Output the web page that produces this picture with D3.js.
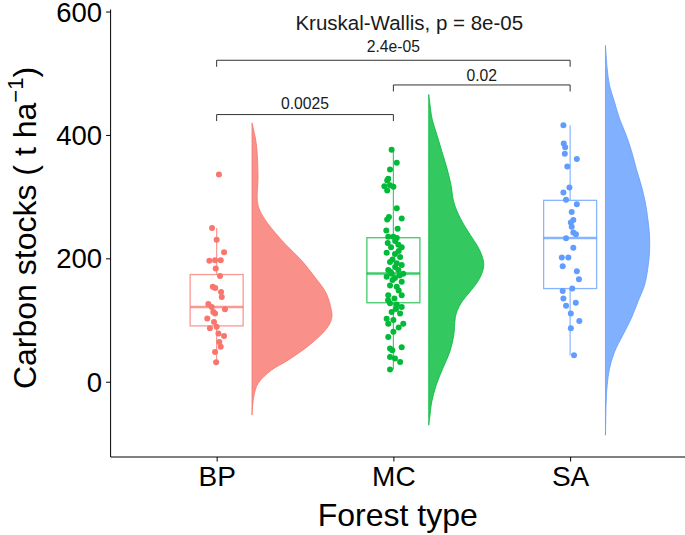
<!DOCTYPE html>
<html><head><meta charset="utf-8">
<script src="https://cdn.jsdelivr.net/npm/d3@7"></script>
<style>body{margin:0;background:#fff} svg{display:block}</style>
</head><body><svg id="c" width="685" height="535"></svg>
<script>
const categories = ["BP","MC","SA"];
const yTicks = [0,200,400,600];

const bpValues = [336,249,230,210,196,197,197,183.5,171.5,154,152,145.5,137.5,126,121,117.5,113,110.5,102.5,97,86.5,89,78,74,64.5,56.5,48.3,31.6];
const bpJitter = [0.013,-0.026,0,0.042,-0.041,-0.009,0.023,-0.005,0.019,-0.022,-0.008,0.025,0.029,-0.047,-0.028,0.047,-0.019,-0.009,-0.053,-0.015,-0.038,0,0.01,0.042,0.015,0.023,-0.009,-0.003];

const mcValues = [376,355,344,329,326,318.5,317,316,310,281,267,263,264.5,248,245,235,235,233,228,225,222,218,218,212,209,207,202,198,194,192,189,186,181,181,178,175,175,172,170,168,165,162,156,154,148,140,140,135,132,127,125,121,118,113,110.5,102,100,94,94,88,81,72.6,56,54,51,40,37.5,32,20];
const mcJitter = [-0.01,0.019,-0.019,-0.029,-0.035,-0.019,-0.051,0,-0.035,0.019,-0.025,-0.035,0.047,0.024,-0.04,-0.029,0,0.019,0.01,-0.032,0.028,0.047,-0.013,0.03,-0.038,0.009,0.038,-0.005,-0.019,0.019,0.047,0.01,-0.029,0.028,-0.015,-0.01,0.056,0.035,-0.038,0.009,-0.005,0.047,-0.019,0.019,0.03,-0.029,0.047,0.006,-0.03,-0.019,0.019,0.047,0.015,-0.01,0.038,-0.038,0,-0.029,0.056,0.03,0,-0.029,0.047,-0.019,-0.006,-0.019,0.009,0.038,-0.019];

const saValues = [415.7,386,380,369.6,361,349,315,306.6,295,287.7,275,262,258,251,241.8,239,232.5,217,201.4,201.4,187,179,166,151,147,135,128,123,110.5,98.5,86.5,43];
const saJitter = [-0.038,-0.036,-0.028,-0.03,0.038,-0.016,-0.004,-0.038,-0.023,0.038,0.009,0.018,0.004,0.009,0.018,0.033,-0.023,0.018,-0.047,-0.01,-0.042,0.038,0.05,0.012,-0.042,-0.038,0.032,-0.023,0.004,0.052,0.004,0.022];

const boxLow    = [31.6, 20, 43];
const boxQ1     = [90.5, 128, 151];
const boxMedian = [121, 175.5, 233];
const boxQ3     = [173.7, 233.4, 294];
const boxHigh   = [249, 376.6, 415.7];

const bpDensityAt = [419.5,386,332,294,278,256,224,197,170,143,116,105,89,62,35,18.6,-3,-24.6,-54];
const bpDensity   = [0,0.30,0.42,0.37,0.54,1.12,2.29,3.45,4.38,5.20,5.55,5.59,5.31,4.15,2.52,1.35,0.42,0.12,0];
const mcDensityAt = [465.5,440,426.6,399.5,372.5,345.5,318.5,291.4,264.5,237.4,221,205,190,175,160,145.5,129.3,115,102.4,75.4,48.3,21.4,-5.7,-32.7,-59.6,-70.5];
const mcDensity   = [0,0.14,0.23,0.58,0.93,1.28,1.56,1.75,2.22,2.92,3.38,3.71,3.85,3.71,3.36,2.87,2.31,1.99,1.85,1.75,1.47,0.98,0.52,0.21,0.06,0];
const saDensityAt = [545,507.6,480.5,453.5,426.6,399.5,372.5,345.5,318.5,291.4,264.5,237.4,210.4,183.5,156.4,129.3,102.4,75.4,48.3,21.4,-5.7,-32.7,-86.7];
const saDensity   = [0,0.12,0.28,0.63,0.98,1.45,1.84,2.15,2.50,2.78,2.96,3.08,3.08,2.96,2.73,2.26,1.80,1.21,0.63,0.28,0.12,0.05,0];

const kruskalLabel = "Kruskal-Wallis, p = 8e-05";
const kruskalPos = [2.09, 570];
const compFrom   = ["BP","MC","BP"];
const compTo     = ["SA","SA","MC"];
const compLabels = ["2.4e-05","0.02","0.0025"];
const compY      = [521, 481, 433];
const compLabelY = [535, 488, 441.5];

// ---------- drawing ----------
const W = 685, H = 535;
const svg = d3.select("#c");
const font = "'Liberation Sans', Arial, Helvetica, sans-serif";
const colors = ["#F8766D","#00BA38","#619CFF"];

const x = d3.scaleLinear().domain([0.4, 3.65]).range([110.6, 685]);
const y = d3.scaleLinear().domain([-122, 602]).range([457, 10.3]);
const pos = c => categories.indexOf(c) + 1;
const dens = d3.scaleLinear().domain([0, 1]).range([0, 0.0809]);

const groups = [
  {vals: bpValues, jit: bpJitter, dAt: bpDensityAt, d: bpDensity},
  {vals: mcValues, jit: mcJitter, dAt: mcDensityAt, d: mcDensity},
  {vals: saValues, jit: saJitter, dAt: saDensityAt, d: saDensity}
];

// violins (half, nudged right)
groups.forEach((g, i) => {
  const c = i + 1, base = c + 0.2;
  const pts = g.dAt.map((v, k) => ({v, w: g.d[k]}));
  const area = d3.area()
    .y(p => y(p.v))
    .x0(() => x(base))
    .x1(p => x(base + dens(p.w)))
    .curve(d3.curveCatmullRom.alpha(0.5));
  svg.append("path").attr("d", area(pts))
    .attr("fill", colors[i]).attr("fill-opacity", 0.8)
    .attr("stroke", colors[i]).attr("stroke-width", 0.8);
});

// points
groups.forEach((g, i) => {
  const c = i + 1;
  svg.append("g").selectAll("circle").data(g.vals).join("circle")
    .attr("cx", (v, k) => x(c + g.jit[k]))
    .attr("cy", v => y(v))
    .attr("r", 3)
    .attr("fill", colors[i]);
});

// boxplots
categories.forEach((cat, i) => {
  const c = i + 1, hw = 0.15;
  const g = svg.append("g").attr("stroke", colors[i]).attr("stroke-opacity", 0.75).attr("fill", "none");
  g.append("line").attr("x1", x(c)).attr("x2", x(c)).attr("y1", y(boxHigh[i])).attr("y2", y(boxQ3[i])).attr("stroke-width", 1.2);
  g.append("line").attr("x1", x(c)).attr("x2", x(c)).attr("y1", y(boxQ1[i])).attr("y2", y(boxLow[i])).attr("stroke-width", 1.2);
  g.append("rect").attr("x", x(c - hw)).attr("width", x(c + hw) - x(c - hw))
    .attr("y", y(boxQ3[i])).attr("height", y(boxQ1[i]) - y(boxQ3[i])).attr("stroke-width", 1.3);
  g.append("line").attr("x1", x(c - hw)).attr("x2", x(c + hw)).attr("y1", y(boxMedian[i])).attr("y2", y(boxMedian[i])).attr("stroke-width", 2.4);
});

// brackets
compLabels.forEach((lab, i) => {
  const x1 = x(pos(compFrom[i])), x2 = x(pos(compTo[i])), yy = y(compY[i]), tip = 6.5;
  svg.append("path").attr("d", `M${x1},${yy+tip}V${yy}H${x2}V${yy+tip}`)
    .attr("fill", "none").attr("stroke", "#333").attr("stroke-width", 1);
  svg.append("text").attr("x", (x1 + x2) / 2).attr("y", y(compLabelY[i]))
    .attr("text-anchor", "middle").attr("font-family", font).attr("font-size", 15.7)
    .attr("fill", "#1a1a1a").text(lab);
});
svg.append("text").attr("x", x(kruskalPos[0])).attr("y", y(kruskalPos[1]))
  .attr("text-anchor", "middle").attr("font-family", font).attr("font-size", 20.5)
  .attr("fill", "#1a1a1a").text(kruskalLabel);

// axes
const yAxis = d3.axisLeft(y).tickValues(yTicks).tickSize(4.5).tickSizeOuter(0).tickPadding(4);
const ya = svg.append("g").attr("transform", `translate(${x(0.4)},0)`).call(yAxis);
ya.select(".domain").attr("d", `M0,${9.5}V${457}`).attr("stroke", "#000");
ya.selectAll(".tick line").attr("stroke", "#000");
ya.selectAll(".tick text").attr("font-family", font).attr("font-size", 27.5).attr("fill", "#000").attr("dy", "0.35em");

const xAxis = d3.axisBottom(x).tickValues([1,2,3]).tickFormat(d => categories[d-1]).tickSize(4.5).tickSizeOuter(0).tickPadding(5);
const xa = svg.append("g").attr("transform", `translate(0,${y(-122)})`).call(xAxis);
xa.select(".domain").attr("d", `M${x(0.4)},0H${W}`).attr("stroke", "#000");
xa.selectAll(".tick line").attr("stroke", "#000");
xa.selectAll(".tick text").attr("font-family", font).attr("font-size", 28).attr("fill", "#000");

// axis titles
svg.append("text").attr("x", (x(0.4) + W) / 2 + 0).attr("y", 526)
  .attr("text-anchor", "middle").attr("font-family", font).attr("font-size", 32).attr("fill", "#000")
  .text("Forest type");
const yt = svg.append("text").attr("transform", "translate(36,228) rotate(-90)")
  .attr("text-anchor", "middle").attr("font-family", font).attr("font-size", 32).attr("fill", "#000");
yt.append("tspan").text("Carbon stocks ( t ha");
yt.append("tspan").attr("font-size", 22).attr("dy", -13).text("\u22121");
yt.append("tspan").attr("dy", 13).text(")");
</script></body></html>
